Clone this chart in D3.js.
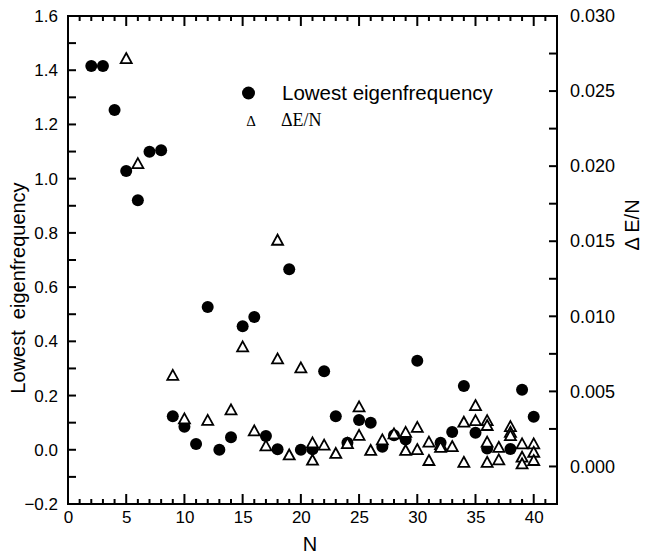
<!DOCTYPE html>
<html>
<head>
<meta charset="utf-8">
<script src="https://cdn.jsdelivr.net/npm/d3@7"></script>
</head>
<body style="margin:0">
<svg id="chart" width="649" height="554"></svg>
<script>
// lowest eigenfrequency (filled circles, left axis)
const eigenN = [2, 3, 4, 5, 6, 7, 8, 9, 10, 11, 12, 13, 14, 15, 16, 17, 18, 19, 20, 21,
                22, 23, 24, 25, 26, 27, 28, 29, 30, 32, 33, 34, 35, 36, 38, 39, 40];
const eigenVal = [1.416, 1.416, 1.253, 1.028, 0.920, 1.099, 1.105, 0.124, 0.085, 0.021,
                  0.527, 0.000, 0.046, 0.456, 0.490, 0.051, 0.002, 0.666, 0.000, 0.002,
                  0.290, 0.124, 0.026, 0.110, 0.100, 0.011, 0.054, 0.038, 0.328, 0.026,
                  0.066, 0.235, 0.063, 0.005, 0.003, 0.221, 0.122];

// delta E / N (open triangles, right axis)
const deltaN = [5, 6, 9, 10, 12, 14, 15, 16, 17, 18, 18, 19, 20, 21, 21, 22, 23, 24, 25, 25,
                26, 27, 28, 29, 29, 30, 30, 31, 31, 32, 32, 33, 34, 34, 35, 35, 36, 36, 36, 36,
                37, 37, 38, 38, 38, 39, 39, 39, 40, 40, 40];
const deltaVal = [0.0272, 0.0202, 0.0061, 0.0032, 0.0031, 0.0038, 0.0080, 0.0024, 0.0014, 0.0151,
                  0.0072, 0.0008, 0.0066, 0.0016, 0.00045, 0.00145, 0.0009, 0.00156, 0.0040, 0.0021,
                  0.0011, 0.0018, 0.0022, 0.0023, 0.0011, 0.00264, 0.00116, 0.00165, 0.00043, 0.00149,
                  0.00131, 0.00136, 0.00298, 0.00031, 0.00409, 0.00309, 0.00309, 0.00276, 0.00165, 0.00031,
                  0.00131, 0.00047, 0.00269, 0.00231, 0.00209, 0.00154, 0.00065, 0.0002, 0.00154, 0.00098,
                  0.00043];

const xTicks = [0, 5, 10, 15, 20, 25, 30, 35, 40];
const yLeftTicks = [-0.2, 0.0, 0.2, 0.4, 0.6, 0.8, 1.0, 1.2, 1.4, 1.6];
const yRightTicks = [0.000, 0.005, 0.010, 0.015, 0.020, 0.025, 0.030];

const sans = "'Liberation Sans', Arial, sans-serif";
const serif = "'Liberation Serif', 'Times New Roman', serif";

let svg = d3.select("#chart");
let plotLeft = 68, plotRight = 557, plotTop = 16, plotBottom = 504;

let xScale = d3.scaleLinear().domain([0, 42]).range([plotLeft, plotRight]);
let yLeft = d3.scaleLinear().domain([-0.2, 1.6]).range([plotBottom, plotTop]);
let yRight = d3.scaleLinear().domain([-0.0025, 0.030]).range([plotBottom, plotTop]);

// minor ticks
let xMinor = d3.range(0, 43, 1);
let yLeftMinor = d3.range(-0.2, 1.61, 0.1);
let yRightMinor = d3.range(-0.0025, 0.0301, 0.0025);

// circles
svg.append("g").selectAll("circle").data(eigenN)
  .enter().append("circle")
  .attr("cx", d => xScale(d))
  .attr("cy", (d, i) => yLeft(eigenVal[i]))
  .attr("r", 6)
  .attr("fill", "black");

// triangles
let tri = "M0,-5L5.5,5L-5.5,5Z";
svg.append("g").selectAll("path").data(deltaN)
  .enter().append("path")
  .attr("d", tri)
  .attr("transform", (d, i) => "translate(" + xScale(d) + "," + yRight(deltaVal[i]) + ")")
  .attr("fill", "white")
  .attr("stroke", "black")
  .attr("stroke-width", 1.8);

// tick labels (ticks drawn separately below)
function styleAxis(g) {
  g.select(".domain").remove();
  g.selectAll(".tick line").remove();
  g.selectAll("text").attr("fill", "black").attr("font-size", 17).attr("font-family", sans);
}
svg.append("g").attr("transform", "translate(0," + plotBottom + ")")
  .call(d3.axisBottom(xScale).tickValues(xTicks).tickSize(0).tickPadding(7).tickFormat(d3.format("d")))
  .call(styleAxis);
svg.append("g").attr("transform", "translate(" + plotLeft + ",0)")
  .call(d3.axisLeft(yLeft).tickValues(yLeftTicks).tickSize(0).tickPadding(10).tickFormat(d3.format(".1f")))
  .call(styleAxis);
svg.append("g").attr("transform", "translate(" + plotRight + ",0)")
  .call(d3.axisRight(yRight).tickValues(yRightTicks).tickSize(0).tickPadding(13).tickFormat(d3.format(".3f")))
  .call(styleAxis)
  .selectAll("text").attr("font-size", 18);

// legend
svg.append("circle").attr("cx", 248.5).attr("cy", 93).attr("r", 6.5).attr("fill", "black");
svg.append("text").attr("x", 282).attr("y", 100).attr("font-size", 20.5)
  .attr("font-family", sans).text("Lowest eigenfrequency");
svg.append("text").attr("x", 251).attr("y", 126).attr("font-size", 15).attr("text-anchor", "middle")
  .attr("font-family", serif).text("Δ");
svg.append("text").attr("x", 281).attr("y", 126).attr("font-size", 18)
  .attr("font-family", serif).text("ΔE/N");

// axis titles
svg.append("text").attr("x", 310).attr("y", 551).attr("text-anchor", "middle")
  .attr("font-size", 20).attr("font-family", sans).text("N");
svg.append("text").attr("transform", "translate(25,288) rotate(-90)").attr("text-anchor", "middle")
  .attr("font-size", 20).attr("font-family", sans).text("Lowest  eigenfrequency")
  .attr("xml:space", "preserve");
svg.append("text").attr("transform", "translate(639,225) rotate(-90)").attr("text-anchor", "middle")
  .attr("font-size", 20).attr("font-family", sans).text("Δ E/N");

// ticks, pointing into the plot, drawn last
let tickG = svg.append("g");
xMinor.forEach(v => {
  let len = xTicks.includes(v) ? 10 : 5;
  tickG.append("line").attr("x1", xScale(v)).attr("x2", xScale(v))
    .attr("y1", plotBottom).attr("y2", plotBottom - len)
    .attr("stroke", "black").attr("stroke-width", 2);
  tickG.append("line").attr("x1", xScale(v)).attr("x2", xScale(v))
    .attr("y1", plotTop).attr("y2", plotTop + len)
    .attr("stroke", "black").attr("stroke-width", 2);
});
yLeftMinor.forEach(v => {
  tickG.append("line").attr("x1", plotLeft).attr("x2", plotLeft + 8)
    .attr("y1", yLeft(v)).attr("y2", yLeft(v))
    .attr("stroke", "black").attr("stroke-width", 2);
});
yRightMinor.forEach(v => {
  tickG.append("line").attr("x1", plotRight).attr("x2", plotRight - 8)
    .attr("y1", yRight(v)).attr("y2", yRight(v))
    .attr("stroke", "black").attr("stroke-width", 2);
});

// frame, drawn last
svg.append("rect")
  .attr("x", plotLeft).attr("y", plotTop)
  .attr("width", plotRight - plotLeft).attr("height", plotBottom - plotTop)
  .attr("fill", "none").attr("stroke", "black").attr("stroke-width", 2);
</script>
</body>
</html>
